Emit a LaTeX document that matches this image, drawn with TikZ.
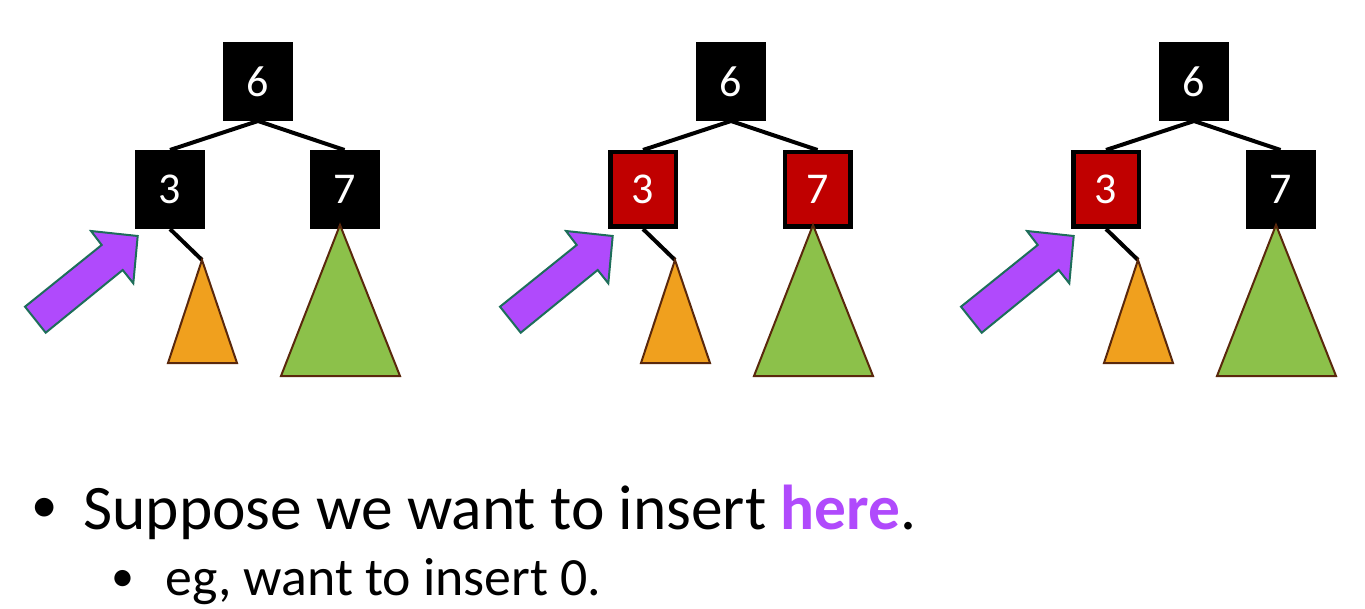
\documentclass[tikz,border=0pt]{standalone}
\usepackage{fontspec}
\setmainfont{Carlito}
\usetikzlibrary{positioning}
\definecolor{rbred}{RGB}{192,0,0}
\definecolor{ptrpurple}{RGB}{176,74,252}
\definecolor{ptrgreen}{RGB}{30,110,90}
\definecolor{treeorange}{RGB}{240,160,30}
\definecolor{treegreen}{RGB}{140,193,74}
\definecolor{treebrown}{RGB}{90,40,12}
\tikzstyle{blacknode} = [
    rectangle,
    draw=black,
    fill=black,
    line width=2.25pt,
    minimum width=32.75pt,
    minimum height=37.25pt,
    inner sep=0pt,
    text=white,
    font=\fontsize{22}{26}\selectfont
]
\tikzstyle{rednode} = [
    blacknode,
    fill=rbred
]
\tikzstyle{link} = [
    line width=2pt
]
\tikzstyle{subtree} = [
    draw=treebrown,
    line width=1pt
]
\tikzstyle{pointer} = [
    draw=ptrgreen,
    fill=ptrpurple,
    line width=1pt
]
\tikzstyle{bigtext} = [
    anchor=base west,
    inner sep=0pt,
    font=\fontsize{31.7}{38}\selectfont
]
\tikzstyle{smalltext} = [
    anchor=base west,
    inner sep=0pt,
    font=\fontsize{26.9}{32}\selectfont
]

\begin{document}
\begin{tikzpicture}[x=0.5pt, y=-0.5pt]

\useasboundingbox (0,0) rectangle (1365,609);

% first tree, all black
\node (root1)  [blacknode] at (258,81.5)   {6};
\node (left1)  [blacknode] at (170,189.5)  {3};
\node (right1) [blacknode] at (344.5,189.5) {7};
\coordinate (small1) at (202,260);
\coordinate (big1)   at (340,225);

\draw[link] (root1.south) -- (left1.north);
\draw[link] (root1.south) -- (right1.north);
\draw[link] (left1.south) -- (small1);

\draw[subtree, fill=treeorange] (small1) -- (168,363) -- (237,363) -- cycle;
\draw[subtree, fill=treegreen]  (big1) -- (281,376) -- (400,376) -- cycle;
\draw[pointer] (25,306.7) -- (101.7,245) -- (91,231) -- (137.7,236)
    -- (133.3,283.3) -- (122.7,270) -- (45.7,332.7) -- cycle;

% second tree, both children red
\begin{scope}[shift={(473,0)}]
\node (root2)  [blacknode] at (258,81.5)   {6};
\node (left2)  [rednode]   at (170,189.5)  {3};
\node (right2) [rednode]   at (344.5,189.5) {7};
\coordinate (small2) at (202,260);
\coordinate (big2)   at (340,225);

\draw[link] (root2.south) -- (left2.north);
\draw[link] (root2.south) -- (right2.north);
\draw[link] (left2.south) -- (small2);

\draw[subtree, fill=treeorange] (small2) -- (168,363) -- (237,363) -- cycle;
\draw[subtree, fill=treegreen]  (big2) -- (281,376) -- (400,376) -- cycle;
\draw[pointer] (27,306.7) -- (103.7,245) -- (93,231) -- (139.7,236)
    -- (135.3,283.3) -- (124.7,270) -- (47.7,332.7) -- cycle;
\end{scope}

% third tree, left child red
\begin{scope}[shift={(936,0)}]
\node (root3)  [blacknode] at (258,81.5)   {6};
\node (left3)  [rednode]   at (170,189.5)  {3};
\node (right3) [blacknode] at (344.5,189.5) {7};
\coordinate (small3) at (202,260);
\coordinate (big3)   at (340,225);

\draw[link] (root3.south) -- (left3.north);
\draw[link] (root3.south) -- (right3.north);
\draw[link] (left3.south) -- (small3);

\draw[subtree, fill=treeorange] (small3) -- (168,363) -- (237,363) -- cycle;
\draw[subtree, fill=treegreen]  (big3) -- (281,376) -- (400,376) -- cycle;
\draw[pointer] (25,306.7) -- (101.7,245) -- (91,231) -- (137.7,236)
    -- (133.3,283.3) -- (122.7,270) -- (45.7,332.7) -- cycle;
\end{scope}

% bullets
\node (dot1)  [bigtext, font=\fontsize{26.4}{32}\selectfont] at (31,522) {•};
\node (line1) [bigtext] at (83,529)
    {Suppose we want to insert \textcolor{ptrpurple}{\textbf{here}}.};
\node (dot2)  [smalltext, font=\fontsize{23}{28}\selectfont] at (111.5,591) {•};
\node (line2) [smalltext] at (165,595) {eg, want to insert 0.};

\end{tikzpicture}
\end{document}
